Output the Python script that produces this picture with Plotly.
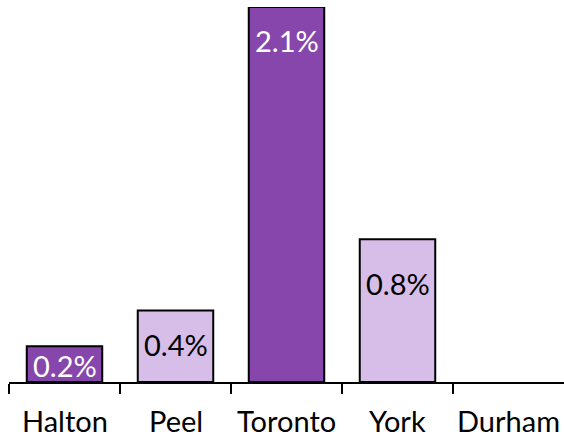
import plotly.graph_objects as go

categories = ["Halton", "Peel", "Toronto", "York", "Durham"]
values = [0.2, 0.4, 2.1, 0.8, 0.0]
bar_colors = ["#8646AC", "#D7BEE9", "#8646AC", "#D7BEE9", "#D7BEE9"]
text_colors = ["white", "black", "white", "black", "black"]
label_shift = [-19, -34, -33, -44, 0]  # label offset below bar top (px)
labels = [f"{v:.1f}%" if v > 0 else "" for v in values]
line_widths = [2 if v > 0 else 0 for v in values]

FONT = "Lato, Carlito, Calibri, Liberation Sans, sans-serif"

xpos = list(range(len(categories)))

fig = go.Figure()
fig.add_trace(go.Bar(
    x=xpos,
    y=values,
    width=0.68,
    marker=dict(color=bar_colors, line=dict(color="black", width=line_widths)),
    hoverinfo="skip",
))

for i, (v, t) in enumerate(zip(values, labels)):
    if t:
        fig.add_annotation(x=i, y=v, xref="x", yref="y", text=t, showarrow=False,
                           yanchor="middle", yshift=label_shift[i],
                           font=dict(family=FONT, size=29, color=text_colors[i]))

for i, c in enumerate(categories):
    fig.add_annotation(x=i, y=0, xref="x", yref="paper", text=c, showarrow=False,
                       yanchor="top", yshift=-20, borderpad=0,
                       font=dict(family=FONT, size=29, color="black"))

fig.update_layout(
    width=564, height=438,
    margin=dict(l=9, r=0, t=7, b=56, autoexpand=False),
    plot_bgcolor="white", paper_bgcolor="white",
    showlegend=False,
    xaxis=dict(range=[-0.5, 4.5], showgrid=False, zeroline=False,
               showline=True, linecolor="black", linewidth=2,
               tickmode="array", tickvals=[-0.5, 0.5, 1.5, 2.5, 3.5],
               ticktext=["", "", "", "", ""], ticks="outside", ticklen=10,
               tickwidth=2, tickcolor="black", fixedrange=True,
               automargin=False),
    yaxis=dict(range=[0, 2.1], visible=False, fixedrange=True, automargin=False),
)

fig.write_html(
    "out.html",
    config={"displayModeBar": False},
    post_script="document.body.style.margin='0';document.body.style.overflow='hidden';",
)
